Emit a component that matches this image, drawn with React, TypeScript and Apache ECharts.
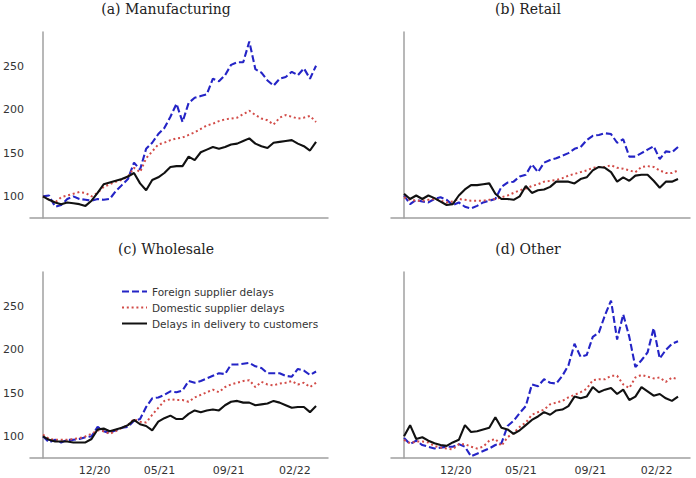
import React, { useEffect, useRef } from "react";
import * as echarts from "echarts";

const seriesNames = [
  "Foreign supplier delays",
  "Domestic supplier delays",
  "Delays in delivery to customers",
];

const panelTitles = ["(a) Manufacturing", "(b) Retail", "(c) Wholesale", "(d) Other"];

const xTickPos = [8.5, 19.2, 30.6, 41.5];
const xTickLabels = ["12/20", "05/21", "09/21", "02/22"];
const yTickValues = [100, 150, 200, 250];

const mfgForeign = [100, 101, 88, 90, 97, 100, 97, 96, 95, 97, 96, 97, 106, 113, 120, 139, 131, 155, 162, 172, 179, 192, 207, 186, 208, 214, 216, 218, 236, 233, 240, 252, 255, 255, 279, 247, 243, 234, 228, 236, 238, 244, 240, 248, 236, 251];
const mfgDomestic = [100, 96, 93, 99, 101, 103, 105, 104, 100, 104, 111, 114, 117, 119, 123, 133, 128, 144, 152, 160, 162, 165, 167, 168, 171, 174, 178, 182, 184, 187, 189, 190, 191, 195, 199, 194, 190, 188, 183, 191, 194, 192, 190, 191, 193, 186];
const mfgCustomers = [100, 96, 93, 91, 93, 92, 91, 89, 95, 104, 114, 116, 118, 120, 123, 127, 115, 107, 119, 122, 127, 134, 135, 135, 146, 142, 151, 154, 157, 155, 157, 160, 161, 164, 167, 161, 158, 156, 162, 163, 164, 165, 161, 158, 153, 163];

const retForeign = [101, 91, 96, 94, 93, 97, 99, 96, 90, 93, 88, 86, 89, 93, 95, 97, 111, 116, 117, 123, 125, 137, 128, 139, 142, 144, 147, 150, 155, 157, 165, 170, 171, 173, 172, 162, 166, 146, 146, 150, 154, 158, 143, 152, 151, 157];
const retDomestic = [99, 96, 95, 95, 96, 97, 95, 93, 94, 97, 96, 95, 95, 95, 96, 97, 99, 101, 104, 107, 109, 112, 114, 117, 118, 119, 121, 124, 126, 128, 130, 133, 134, 134, 136, 133, 132, 130, 128, 134, 135, 134, 130, 127, 127, 130];
const retCustomers = [103, 97, 101, 97, 101, 98, 94, 90, 91, 101, 108, 113, 113, 114, 115, 103, 97, 97, 96, 100, 112, 104, 107, 108, 111, 117, 117, 117, 115, 120, 122, 130, 134, 133, 128, 117, 122, 118, 124, 125, 125, 118, 110, 117, 117, 120];

const wsForeign = [100, 93, 96, 93, 96, 96, 97, 99, 100, 111, 106, 104, 107, 110, 111, 118, 120, 134, 144, 145, 148, 152, 151, 153, 164, 162, 164, 167, 170, 173, 172, 183, 183, 184, 185, 181, 179, 173, 173, 173, 170, 169, 178, 176, 171, 175];
const wsDomestic = [102, 97, 96, 96, 96, 97, 98, 100, 103, 107, 106, 103, 106, 110, 113, 120, 117, 116, 125, 133, 141, 143, 142, 142, 140, 145, 148, 151, 154, 151, 157, 160, 162, 164, 165, 157, 163, 160, 159, 161, 162, 164, 160, 162, 157, 162];
const wsCustomers = [100, 96, 94, 94, 94, 93, 93, 93, 97, 108, 109, 106, 108, 110, 113, 119, 114, 112, 107, 117, 121, 124, 120, 120, 126, 130, 128, 130, 131, 130, 136, 140, 141, 139, 139, 136, 137, 138, 141, 139, 136, 133, 134, 134, 128, 135];

const othForeign = [98, 91, 95, 90, 88, 86, 87, 88, 88, 91, 88, 77, 80, 83, 86, 90, 92, 112, 118, 127, 135, 160, 158, 166, 162, 161, 170, 182, 207, 192, 194, 215, 220, 240, 257, 212, 241, 215, 180, 188, 197, 225, 190, 200, 207, 210];
const othDomestic = [96, 92, 94, 94, 93, 89, 87, 86, 85, 91, 91, 88, 86, 88, 95, 97, 89, 99, 104, 111, 116, 125, 128, 131, 137, 139, 141, 145, 148, 151, 155, 165, 166, 166, 170, 170, 160, 156, 168, 171, 169, 167, 168, 163, 168, 166];
const othCustomers = [100, 113, 97, 99, 95, 92, 90, 89, 93, 96, 113, 105, 106, 108, 110, 122, 110, 108, 103, 107, 113, 119, 123, 128, 125, 130, 131, 135, 146, 144, 146, 157, 151, 154, 156, 149, 154, 142, 146, 157, 152, 147, 149, 144, 141, 146];

const panels = [
  [mfgForeign, mfgDomestic, mfgCustomers],
  [retForeign, retDomestic, retCustomers],
  [wsForeign, wsDomestic, wsCustomers],
  [othForeign, othDomestic, othCustomers],
];

const colors = ["#2424c6", "#d24c48", "#111111"];
const lineTypes: any[] = [[7, 3], [2, 2.8], "solid"];
const lineWidths = [2.1, 2, 2.1];

export default function App() {
  const ref = useRef<HTMLDivElement>(null);
  useEffect(() => {
    if (!ref.current) return;
    const chart = echarts.init(ref.current, null, { renderer: "svg" });
    const gridPos = [
      { left: 30, top: 32, width: 298, height: 186 },
      { left: 391, top: 32, width: 299, height: 186 },
      { left: 30, top: 272, width: 298, height: 186 },
      { left: 391, top: 272, width: 299, height: 186 },
    ];
    const axisLine = { show: true, lineStyle: { color: "#a0a0a0", width: 1.5 } };
    const labelStyle = { color: "#333", fontSize: 11, fontFamily: "DejaVu Sans" };
    const xAxis = gridPos.map((_, k) => ({
      type: "value",
      gridIndex: k,
      min: -2.14,
      max: 46.97,
      axisLine,
      axisTick: { show: false },
      splitLine: { show: false },
      axisLabel:
        k >= 2
          ? {
              ...labelStyle,
              margin: 7,
              customValues: xTickPos,
              formatter: (v: number) => {
                let best = 0;
                xTickPos.forEach((p, i) => {
                  if (Math.abs(p - v) < Math.abs(xTickPos[best] - v)) best = i;
                });
                return xTickLabels[best];
              },
            }
          : { show: false },
    }));
    const yAxis = gridPos.map((_, k) => ({
      type: "value",
      gridIndex: k,
      min: 75,
      max: 290,
      axisLine,
      axisTick: { show: false },
      splitLine: { show: false },
      axisLabel:
        k % 2 === 0
          ? { ...labelStyle, margin: 6, customValues: yTickValues }
          : { show: false },
    }));
    const series: any[] = [];
    panels.forEach((panel, k) => {
      panel.forEach((vals, s) => {
        series.push({
          name: seriesNames[s],
          type: "line",
          xAxisIndex: k,
          yAxisIndex: k,
          symbol: "none",
          data: vals.map((v, i) => [i, v]),
          lineStyle: { color: colors[s], width: lineWidths[s], type: lineTypes[s] },
          itemStyle: { color: colors[s] },
          z: 2 + s,
        });
      });
    });
    const titleCenters = [
      [166, 9],
      [528, 9],
      [166, 249],
      [528, 249],
    ];
    chart.setOption({
      animation: false,
      backgroundColor: "#fff",
      grid: gridPos,
      xAxis,
      yAxis,
      series,
      legend: {
        data: seriesNames,
        orient: "vertical",
        left: 116,
        top: 281,
        itemWidth: 25,
        itemHeight: 10,
        itemGap: 5,
        itemStyle: { opacity: 0 },
        textStyle: { color: "#333", fontSize: 10.5, fontFamily: "DejaVu Sans" },
      },
      graphic: panelTitles.map((t, k) => ({
        type: "text",
        x: titleCenters[k][0],
        y: titleCenters[k][1],
        style: {
          text: t,
          align: "center",
          verticalAlign: "middle",
          font: '14px "DejaVu Serif"',
          fill: "#222",
        },
      })),
    });
    return () => chart.dispose();
  }, []);
  return (
    <div
      ref={ref}
      style={{ position: "absolute", left: 0, top: 0, width: 696, height: 478, background: "#fff" }}
    />
  );
}
